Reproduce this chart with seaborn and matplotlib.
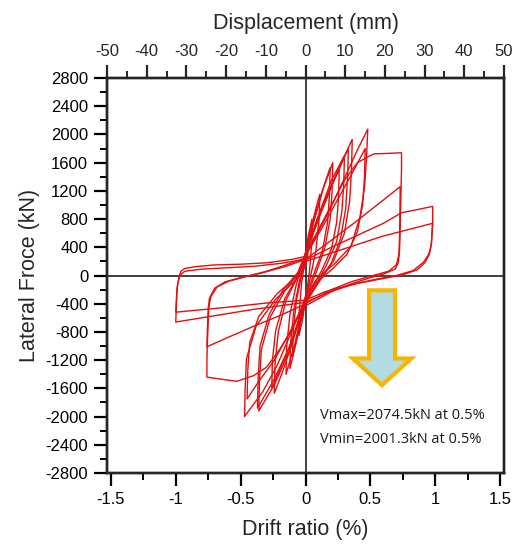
import numpy as np
import pandas as pd
import matplotlib
matplotlib.use("Agg")
import matplotlib.pyplot as plt
import seaborn as sns
from matplotlib.patches import FancyArrow
from matplotlib.ticker import MultipleLocator, FixedLocator

# ---------------- data: hysteresis loops (drift %, lateral force kN) ----------------
loop01_d = [0.0, 0.02, 0.05, 0.05, 0.03, 0.0, -0.02, -0.05, -0.05, -0.03, 0.0]
loop01_f = [250, 550, 800, 500, 50, -350, -600, -850, -550, -100, 250]

loop02_d = [0.0, 0.04, 0.08, 0.11, 0.105, 0.08, 0.04, 0.0, -0.04, -0.08, -0.10, -0.095, -0.07, -0.03, 0.0]
loop02_f = [280, 650, 950, 1150, 800, 350, 0, -350, -700, -1000, -1150, -800, -350, 0, 280]

loop03_d = [0.0, 0.06, 0.12, 0.19, 0.185, 0.17, 0.13, 0.07, 0.0, -0.02, -0.06, -0.12, -0.115, -0.09, -0.05, 0.0]
loop03_f = [300, 750, 1150, 1530, 1150, 750, 350, 50, -300, -450, -850, -1320, -950, -500, -100, 300]

loop04_d = [0.0, 0.07, 0.14, 0.21, 0.205, 0.19, 0.15, 0.09, 0.02, -0.02, -0.08, -0.15, -0.145, -0.12, -0.07, 0.0]
loop04_f = [310, 800, 1250, 1600, 1200, 800, 400, 80, -250, -450, -950, -1400, -1000, -550, -120, 310]

loop05_d = [0.0, 0.09, 0.18, 0.26, 0.255, 0.24, 0.20, 0.13, 0.04, -0.02, -0.10, -0.18, -0.24, -0.235, -0.21, -0.15, -0.07, 0.0]
loop05_f = [300, 800, 1200, 1500, 1100, 750, 380, 90, -220, -450, -950, -1380, -1670, -1250, -800, -350, -50, 300]

loop06_d = [0.0, 0.10, 0.20, 0.30, 0.295, 0.28, 0.24, 0.16, 0.06, -0.02, -0.10, -0.19, -0.26, -0.255, -0.23, -0.16, -0.07, 0.0]
loop06_f = [320, 850, 1350, 1700, 1300, 900, 480, 140, -200, -450, -900, -1300, -1600, -1200, -780, -330, -40, 320]

loop07_d = [0.0, 0.12, 0.24, 0.36, 0.355, 0.34, 0.30, 0.22, 0.10, -0.02, -0.12, -0.25, -0.37, -0.365, -0.35, -0.28, -0.17, -0.06, 0.0]
loop07_f = [300, 900, 1450, 1930, 1500, 1050, 600, 220, -100, -450, -1000, -1500, -1880, -1450, -1000, -550, -200, 40, 300]

loop08_d = [0.0, 0.11, 0.22, 0.33, 0.325, 0.31, 0.27, 0.20, 0.09, -0.02, -0.12, -0.24, -0.36, -0.355, -0.34, -0.27, -0.16, -0.05, 0.0]
loop08_f = [310, 850, 1350, 1800, 1400, 950, 520, 180, -120, -450, -1050, -1550, -1920, -1500, -1050, -580, -220, 50, 310]

loop09_d = [0.0, 0.10, 0.20, 0.30, 0.40, 0.48, 0.47, 0.455, 0.42, 0.35, 0.22, 0.09, 0.0, -0.03,
            -0.12, -0.22, -0.33, -0.47, -0.465, -0.455, -0.38, -0.23, -0.07, 0.0, 0.02]
loop09_f = [300, 620, 980, 1380, 1780, 2075, 1660, 1250, 830, 410, 160, -40, -300, -450,
            -850, -1280, -1650, -2000, -1600, -1180, -714, -336, -56, 126, 320]

loop10_d = [0.0, 0.12, 0.24, 0.36, 0.46, 0.455, 0.44, 0.40, 0.32, 0.20, 0.07, -0.02,
            -0.12, -0.24, -0.36, -0.45, -0.445, -0.43, -0.36, -0.22, -0.07, 0.0]
loop10_f = [280, 650, 1050, 1450, 1800, 1400, 1000, 620, 300, 80, -120, -430,
            -800, -1200, -1500, -1750, -1350, -950, -580, -260, -20, 280]

loop11_d = [0.0, 0.10, 0.20, 0.30, 0.40, 0.50, 0.53, 0.62, 0.74, 0.74, 0.735, 0.73, 0.725, 0.715, 0.69, 0.60,
            0.50, 0.35, 0.20, 0.05, -0.02, -0.10, -0.20, -0.30, -0.40, -0.53, -0.65, -0.76, -0.76, -0.755,
            -0.75, -0.745, -0.73, -0.68, -0.59, -0.45, -0.30, -0.15, 0.0]
loop11_f = [300, 650, 1000, 1350, 1600, 1700, 1725, 1730, 1740, 1500, 1100, 700, 350, 180, 90, 20,
            -30, -120, -230, -380, -450, -750, -1050, -1300, -1420, -1500, -1470, -1440, -1200, -900,
            -650, -450, -300, -160, -80, -10, 60, 150, 250]

loop12_d = [0.0, 0.20, 0.40, 0.60, 0.73, 0.728, 0.725, 0.72, 0.70, 0.64, 0.50, 0.35, 0.20, 0.05, -0.02,
            -0.20, -0.40, -0.60, -0.76, -0.755, -0.75, -0.74, -0.70, -0.62, -0.50, -0.35, -0.15, 0.0]
loop12_f = [230, 500, 780, 1070, 1260, 900, 550, 300, 150, 60, -10, -90, -200, -350, -420,
            -570, -720, -880, -1010, -700, -470, -320, -180, -90, -30, 30, 130, 230]

loop13_d = [0.0, 0.20, 0.40, 0.60, 0.74, 0.85, 0.98, 0.98, 0.97, 0.95, 0.91, 0.83, 0.70, 0.55, 0.40, 0.20, 0.0,
            -0.20, -0.40, -0.60, -0.80, -1.0, -0.995, -0.99, -0.975, -0.96, -0.93, -0.85, -0.70, -0.50, -0.30, -0.10, 0.0]
loop13_f = [220, 400, 570, 740, 890, 930, 980, 750, 430, 300, 190, 70, 0, -50, -110, -220, -380,
            -430, -480, -540, -600, -660, -420, -180, -20, 60, 100, 125, 150, 160, 180, 230, 270]

loop14_d = [0.0, 0.30, 0.60, 0.98, 0.97, 0.955, 0.92, 0.86, 0.75, 0.55, 0.35, 0.15, 0.0,
            -0.30, -0.60, -1.0, -0.995, -0.985, -0.97, -0.93, -0.80, -0.60, -0.40, -0.20, 0.0]
loop14_f = [200, 380, 560, 740, 450, 300, 180, 80, 10, -60, -130, -230, -350,
            -390, -450, -520, -320, -120, 0, 60, 90, 110, 130, 170, 230]

loops_d = [loop01_d, loop02_d, loop03_d, loop04_d, loop05_d, loop06_d, loop07_d,
           loop08_d, loop09_d, loop10_d, loop11_d, loop12_d, loop13_d, loop14_d]
loops_f = [loop01_f, loop02_f, loop03_f, loop04_f, loop05_f, loop06_f, loop07_f,
           loop08_f, loop09_f, loop10_f, loop11_f, loop12_f, loop13_f, loop14_f]

drift_ticks = [-1.5, -1.0, -0.5, 0.0, 0.5, 1.0, 1.5]
drift_labels = ["-1.5", "-1", "-0.5", "0", "0.5", "1", "1.5"]
disp_ticks = [-50, -40, -30, -20, -10, 0, 10, 20, 30, 40, 50]
force_ticks = [2800, 2400, 2000, 1600, 1200, 800, 400, 0, -400, -800, -1200, -1600, -2000, -2400, -2800]

note_lines = ["Vmax=2074.5kN at 0.5%", "Vmin=2001.3kN at 0.5%"]

# ---------------- build frame ----------------
rows = []
for i, (ds, fs) in enumerate(zip(loops_d, loops_f)):
    for j, (d, f) in enumerate(zip(ds, fs)):
        rows.append({"cycle": i, "order": j, "drift": d, "force": f})
df = pd.DataFrame(rows)

sns.set_theme(style="ticks")
plt.rcParams['font.family'] = ['Liberation Sans', 'DejaVu Sans']
plt.rcParams['axes.unicode_minus'] = False

fig = plt.figure(figsize=(5.14, 5.46), dpi=100)
ax = fig.add_axes([107/514, 1 - 473/546, (504 - 107)/514, (473 - 78)/546])

ax.axhline(0, color="#333333", lw=1.3, zorder=1)
ax.axvline(0, color="#333333", lw=1.3, zorder=1)

sns.lineplot(data=df, x="drift", y="force", units="cycle", estimator=None, sort=False,
             color="#e01010", lw=1.0, ax=ax, legend=False, zorder=3)

ax.set_xlim(-1.53, 1.53)
ax.set_ylim(-2800, 2800)
ax.xaxis.set_major_locator(FixedLocator(drift_ticks))
ax.set_xticklabels(drift_labels)
ax.xaxis.set_minor_locator(MultipleLocator(0.25))
ax.yaxis.set_major_locator(FixedLocator(force_ticks))
ax.set_yticklabels([str(v) for v in force_ticks])
ax.yaxis.set_minor_locator(MultipleLocator(200))

for sp in ax.spines.values():
    sp.set_linewidth(1.7)
    sp.set_color("black")

ax.tick_params(axis="both", which="major", direction="out", length=9.5, width=1.6,
               labelsize=12, colors="black", pad=4)
ax.tick_params(axis="both", which="minor", direction="out", length=5, width=1.4, colors="black")
ax.tick_params(right=False, top=False, which="both")
ax.set_xlabel("Drift ratio (%)", fontsize=15.5, labelpad=9)
ax.set_ylabel("Lateral Froce (kN)", fontsize=15.5, labelpad=4)

ax2 = ax.twiny()
ax2.set_xlim(-50, 50)
ax2.xaxis.set_major_locator(FixedLocator(disp_ticks))
ax2.set_xticklabels([str(v) for v in disp_ticks])
ax2.xaxis.set_minor_locator(MultipleLocator(5))
ax2.tick_params(axis="x", which="major", direction="out", length=9.5, width=1.6, labelsize=12, pad=4)
ax2.tick_params(axis="x", which="minor", direction="out", length=5, width=1.4)
ax2.set_xlabel("Displacement (mm)", fontsize=15.5, labelpad=11)
for sp in ax2.spines.values():
    sp.set_linewidth(1.7)

# arrow annotation
arrow = FancyArrow(0.59, -210, 0, -1344, width=0.2, head_width=0.45, head_length=378,
                   length_includes_head=True, facecolor="#b3dce2", edgecolor="#f7b500",
                   lw=3, zorder=4)
ax.add_patch(arrow)

ax.text(0.11, -1990, note_lines[0], fontsize=10.5, family=["Open Sans", "DejaVu Sans"],
        va="center", ha="left", color="#1a1a1a")
ax.text(0.11, -2330, note_lines[1], fontsize=10.5, family=["Open Sans", "DejaVu Sans"],
        va="center", ha="left", color="#1a1a1a")

fig.savefig("out.png", dpi=100)
